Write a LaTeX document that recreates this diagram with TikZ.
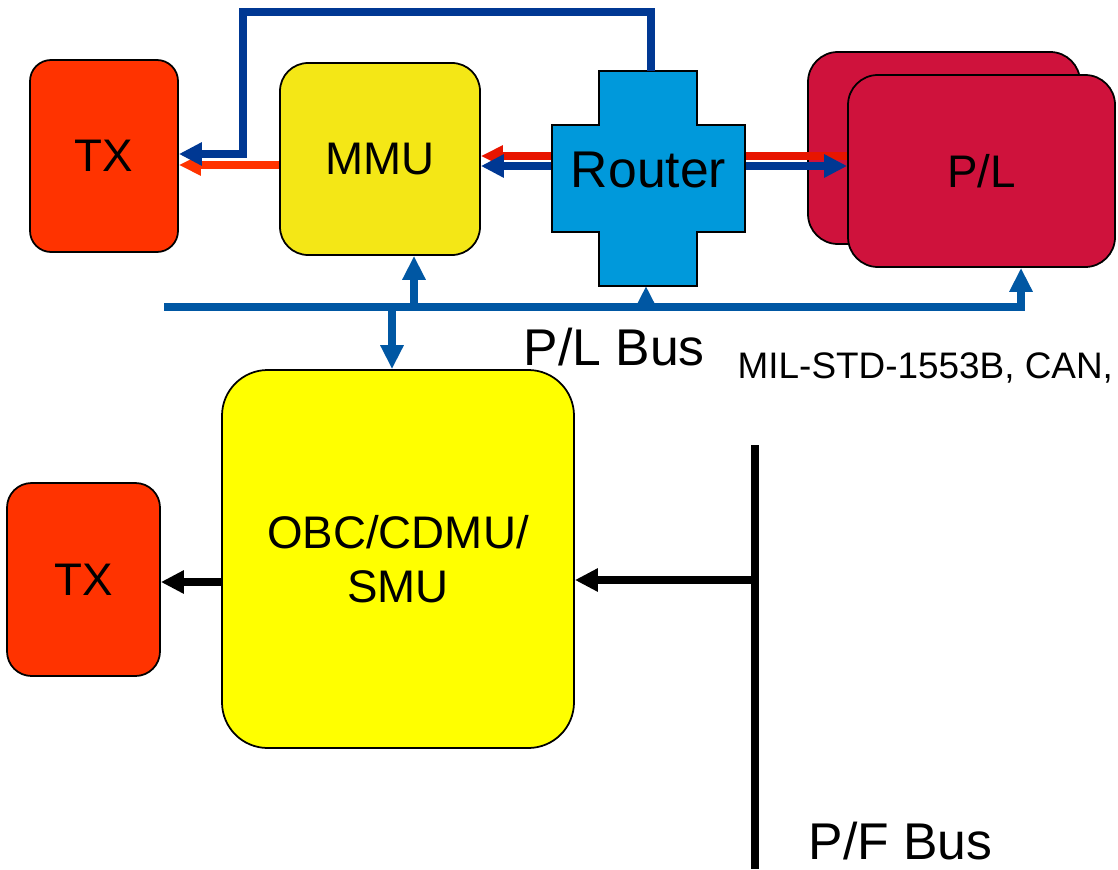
\documentclass[tikz,border=0pt]{standalone}
\usepackage{fontspec}
\setmainfont{Liberation Sans}
\usetikzlibrary{arrows.meta, positioning}

\definecolor{txRouge}{HTML}{FF3300}
\definecolor{mmuJaune}{HTML}{F4E716}
\definecolor{routeurBleu}{HTML}{0099DB}
\definecolor{plRouge}{HTML}{CF123C}
\definecolor{obcJaune}{HTML}{FFFF00}
\definecolor{bleuFonce}{HTML}{003893}
\definecolor{busBleu}{HTML}{0057A3}
\definecolor{flecheRouge}{HTML}{E81500}

\begin{document}
\begin{tikzpicture}[
			x=1cm, y=-1cm,
			% Styles des blocs
			bloc/.style={draw=black, line width=0.5pt, align=center, inner sep=0pt, font=\fontsize{13pt}{15.5pt}\selectfont},
			tx/.style={bloc, fill=txRouge, rounded corners=6pt, minimum width=1.48cm, minimum height=1.92cm},
			mmu/.style={bloc, fill=mmuJaune, rounded corners=8pt, minimum width=2cm, minimum height=1.92cm},
			charge/.style={bloc, fill=plRouge, rounded corners=8.5pt, minimum width=2.72cm, minimum height=1.92cm},
			obc/.style={bloc, fill=obcJaune, rounded corners=13pt, minimum width=3.52cm, minimum height=3.78cm},
			etiquette/.style={anchor=base west, inner sep=0pt, font=\fontsize{14.7pt}{17pt}\selectfont},
			% Styles des fleches
			flecheBleue/.style={-{Triangle[length=0.23cm, width=0.22cm]}, line width=2pt, bleuFonce},
			flecheRge/.style={-{Triangle[length=0.22cm, width=0.2cm]}, line width=2pt, flecheRouge},
			flecheBus/.style={-{Triangle[length=0.24cm, width=0.22cm]}, line width=2pt, busBleu},
			flecheNoire/.style={-{Triangle[length=0.23cm, width=0.22cm]}, line width=2pt, black},
			]

			\useasboundingbox (0,0) rectangle (11.18,8.69);

			% Partie charge utile
			\node[tx] (txHaut) at (1.04,1.56) {TX};
			\node[mmu] (mmu) at (3.80,1.59) {MMU};

			\filldraw[fill=routeurBleu, draw=black, line width=0.5pt]
				(5.52,1.25) -| (5.99,0.71) -| (6.97,1.25) -| (7.45,2.32)
				-| (6.97,2.86) -| (5.99,2.32) -- (5.52,2.32) -- cycle;
			\node[inner sep=0pt, minimum width=1.93cm, minimum height=1.07cm, font=\fontsize{14.7pt}{17pt}\selectfont] (router) at (6.485,1.70) {Router};
			\coordinate (routerHaut) at (6.51,0.71);
			\coordinate (routerBas) at (6.46,2.86);

			\node[charge] (plArriere) at (9.44,1.48) {};
			\node[charge, minimum width=2.67cm] (pl) at (9.815,1.71) {P/L};

			% Bus P/L
			\coordinate (busGauche) at (1.64,3.07);
			\coordinate (busDroite) at (10.21,3.07);
			\coordinate (tapMMU) at (4.14,3.07);
			\coordinate (tapRouter) at (6.46,3.07);
			\coordinate (tapOBC) at (3.92,3.03);
			\coordinate (coin) at (2.43,0.12);

			% Partie plate-forme
			\node[obc] (obc) at (3.98,5.59) {OBC/CDMU/\\SMU};
			\node[tx, minimum width=1.53cm, minimum height=1.93cm, rounded corners=7pt] (txBas) at (0.835,5.795) {TX};
			\coordinate (pfHaut) at (7.55,4.45);
			\coordinate (pfBas) at (7.55,8.69);

			% Fleches du haut
			\draw[flecheRge, txRouge] ([yshift=-0.6mm]mmu.west) -- ([yshift=-0.6mm]mmu.west -| txHaut.east);
			\draw[flecheBleue] (routerHaut) |- (coin) |- ([yshift=0.2mm]txHaut.east);
			\draw[flecheRge] (router.west |- 0,1.56) -- (mmu.east |- 0,1.56);
			\draw[flecheBleue] (router.west |- 0,1.66) -- (mmu.east |- 0,1.66);
			\draw[line width=2pt, flecheRouge] (router.east |- 0,1.56) -- (pl.west |- 0,1.56);
			\draw[flecheBleue] (router.east |- 0,1.66) -- (pl.west |- 0,1.66);

			% Bus et derivations
			\draw[flecheBus, line width=2.2pt] (busGauche) -- (busDroite) -- (busDroite |- pl.south);
			\draw[flecheBus] (tapMMU) -- (tapMMU |- mmu.south);
			\draw[flecheBus] (tapRouter) -- (routerBas);
			\draw[flecheBus] (tapOBC) -- (tapOBC |- obc.north);

			\node[etiquette] (plBus) at (5.23,3.65) {P/L Bus};
			\node[etiquette, font=\fontsize{10.5pt}{12pt}\selectfont] (milStd) at (7.37,3.78) {MIL-STD-1553B, CAN,};

			% Bus plate-forme
			\draw[line width=2.1pt] (pfHaut) -- (pfBas);
			\draw[flecheNoire] (obc.west |- 0,5.82) -- (txBas.east |- 0,5.82);
			\draw[flecheNoire] (pfHaut |- 0,5.80) -- (obc.east |- 0,5.80);
			\node[etiquette] (pfBus) at (8.08,8.59) {P/F Bus};

		\end{tikzpicture}
\end{document}
